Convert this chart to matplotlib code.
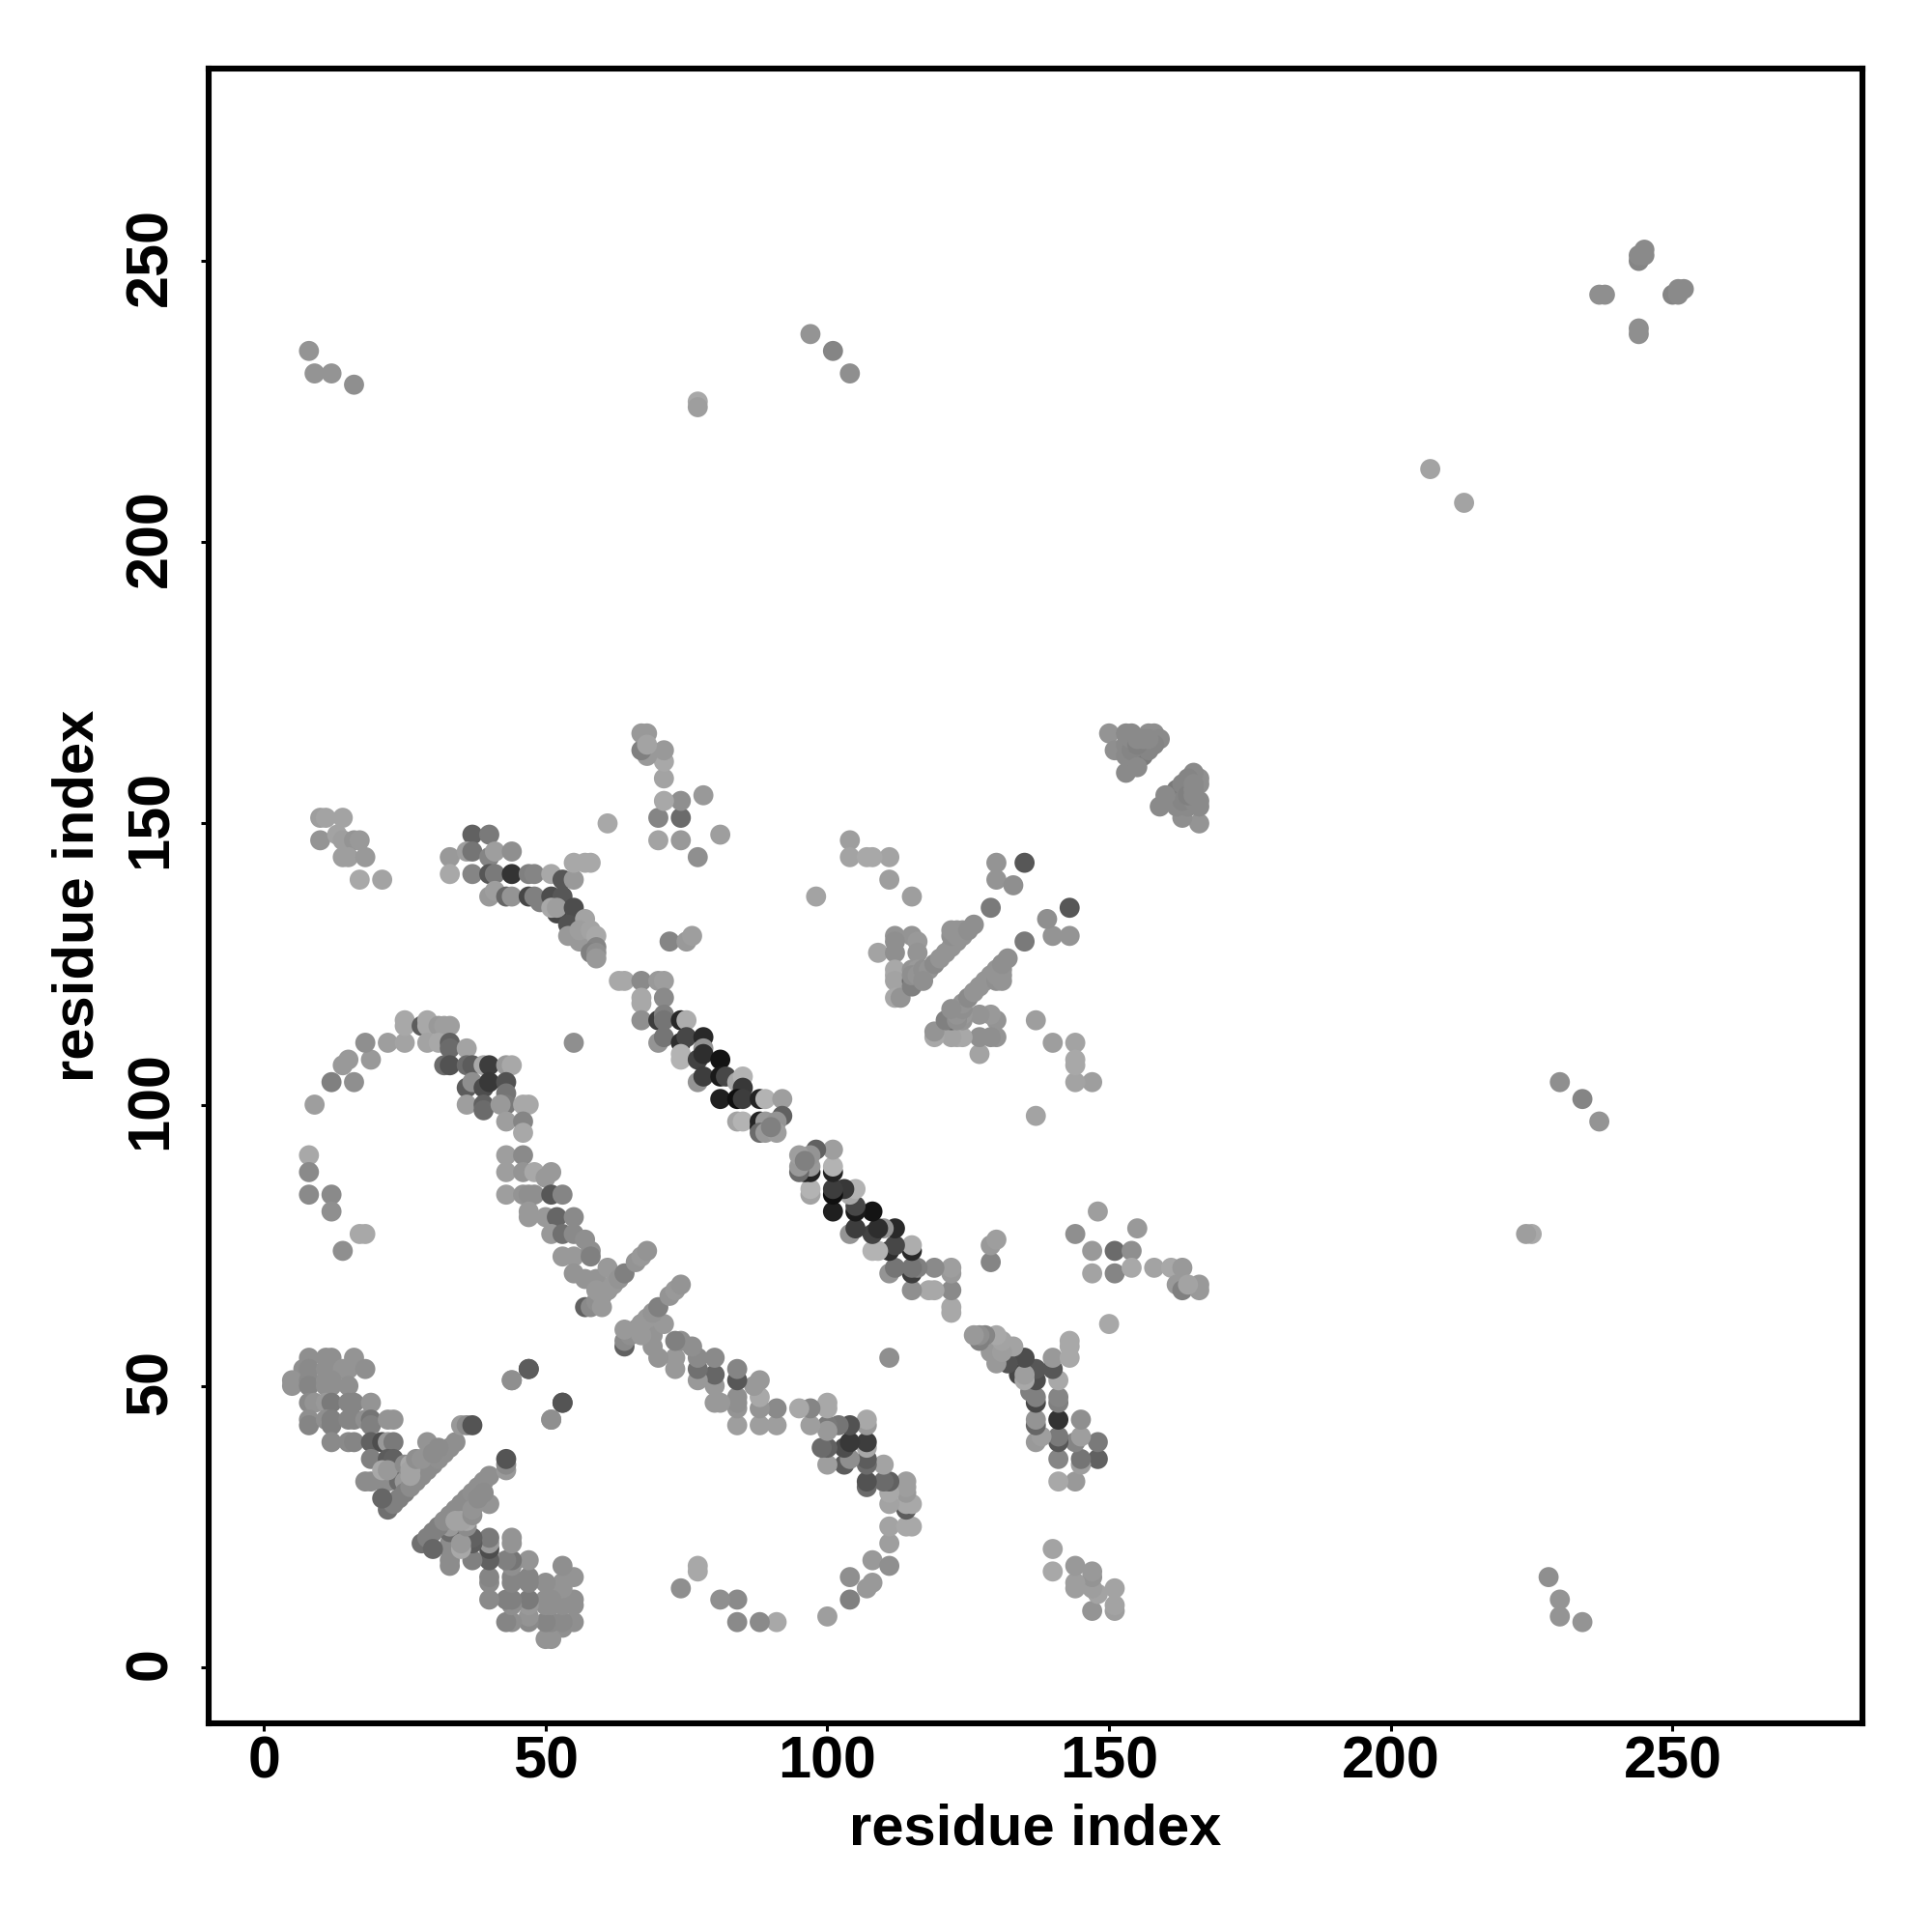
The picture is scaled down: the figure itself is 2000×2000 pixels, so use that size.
import numpy as np
import matplotlib
matplotlib.use('Agg')
import matplotlib.pyplot as plt
from matplotlib.transforms import ScaledTranslation

# contact map is symmetric, only i < j is listed and the mirror is drawn too
# gray level of each contact is stored next to it

# far apart contacts
far_i = [8, 9, 12, 16, 97, 101, 104, 77, 77, 207, 237, 238, 244, 244, 245, 245]
far_j = [234, 230, 230, 228, 237, 234, 230, 225, 224, 213, 244, 244, 250, 251, 251, 252]
far_g = [.58, .58, .58, .56, .58, .52, .56, .66, .62, .64, .56, .56, .52, .54, .54, .54]

# lower left blob next to the first strand pair
blob_i = [8, 11, 12, 16, 7, 8, 11, 12, 14, 15, 18, 5, 5, 8, 8, 11, 12, 11, 12, 15,
          8, 9, 11, 12, 15, 16, 19, 8, 8, 11, 12, 12, 15, 16, 18, 19, 19, 22, 23,
          12, 15, 16, 20, 19, 21, 22, 23, 19, 22, 23, 18, 19, 21, 22, 24, 25,
          29, 47, 44, 53, 51]
blob_j = [55, 55, 55, 55, 53, 53, 53, 53, 53, 53, 53, 51, 50, 51, 50, 51, 51, 50, 50, 50,
          47, 47, 47, 47, 47, 47, 47, 44, 43, 44, 44, 43, 44, 44, 44, 44, 43, 44, 44,
          40, 40, 40, 40, 40, 40, 40, 40, 37, 37, 37, 33, 33, 33, 33, 33, 33,
          40, 53, 51, 47, 44]
blob_g = [.56, .56, .56, .58, .56, .54, .56, .56, .58, .58, .56, .58, .58, .54, .52, .56, .56, .56, .56, .56,
          .54, .58, .6, .48, .52, .52, .58, .56, .52, .56, .5, .5, .52, .52, .56, .46, .5, .58, .58,
          .54, .54, .52, .55, .38, .3, .6, .48, .5, .36, .38, .55, .55, .55, .55, .42, .6,
          .58, .33, .56, .36, .56]

# first strand pair along the diagonal
s1_i = [22, 23, 24, 25, 26, 27, 28, 29, 30, 31, 32, 33, 34, 21, 21, 22, 25, 26, 26, 26, 27, 28, 30, 31, 35, 36, 37]
s1_j = [28, 29, 30, 31, 32, 33, 34, 35, 36, 37, 38, 39, 40, 30, 35, 35, 36, 36, 35, 34, 37, 37, 38, 39, 43, 43, 43]
s1_g = [.44, .5, .5, .5, .55, .55, .55, .55, .55, .56, .56, .56, .56, .4, .66, .6, .55, .66, .64, .64, .56, .58, .55, .55, .6, .54, .33]

# arc that bends round towards the long strand
arc_i = [8, 8, 8, 12, 12, 14, 17, 18, 9, 12, 16, 14, 15, 19, 18, 22, 25, 25, 25, 28, 29, 29, 29, 31, 32, 33,
         31, 33, 33, 36, 32, 33, 36, 37, 39, 40, 43, 44, 36, 37, 39, 40, 43, 43, 36, 39, 39, 43, 42, 46, 47, 43, 46, 46]
arc_j = [91, 88, 84, 84, 81, 74, 77, 77, 100, 104, 104, 107, 108, 108, 111, 111, 111, 115, 114, 114, 115, 114, 111, 114, 114, 114,
         111, 111, 110, 110, 107, 107, 107, 107, 107, 107, 107, 107, 103, 104, 103, 104, 104, 102, 100, 100, 99, 100, 100, 100, 100, 97, 97, 95]
arc_g = [.66, .54, .54, .54, .56, .56, .66, .66, .62, .5, .56, .6, .6, .6, .56, .62, .64, .66, .66, .36, .66, .66, .64, .6, .62, .62,
         .66, .38, .42, .64, .42, .32, .42, .36, .66, .24, .6, .66, .36, .56, .3, .22, .32, .46, .62, .38, .42, .48, .6, .66, .66, .62, .52, .66]

# second long strand, runs into the short near diagonal pair
s2_i = [43, 46, 43, 46, 48, 50, 51, 43, 46, 47, 48, 51, 53, 47, 47, 50, 52, 55, 51, 53, 55, 57, 53, 55, 58, 58, 55, 57, 59, 61, 61,
        57, 58, 59, 60, 61, 62, 63, 64, 66, 67, 68, 60, 59]
s2_j = [91, 91, 88, 88, 88, 87, 88, 84, 84, 84, 84, 84, 84, 81, 80, 80, 80, 80, 77, 77, 77, 76, 73, 73, 74, 73, 70, 69, 69, 71, 67,
        64, 64, 65, 66, 67, 68, 69, 70, 72, 73, 74, 64, 67]
s2_g = [.62, .54, .62, .58, .66, .6, .6, .62, .58, .56, .56, .34, .52, .6, .6, .6, .4, .54, .6, .44, .54, .56, .6, .6, .56, .5, .58, .58, .58, .6, .56,
        .38, .54, .56, .58, .6, .6, .58, .5, .58, .6, .58, .6, .6]

# third strand, near 37-59 with 127-148
s3_i = [37, 40, 33, 36, 37, 40, 41, 44, 33, 37, 40, 41, 44, 47, 48, 51, 53, 55, 55, 57, 58,
        40, 41, 43, 44, 47, 48, 49, 51, 53, 52, 51, 52, 55, 54, 57, 54, 56, 56, 58, 59, 59, 58, 59, 59]
s3_j = [148, 148, 144, 145, 145, 144, 145, 145, 141, 141, 141, 141, 141, 141, 141, 141, 140, 140, 143, 143, 143,
        137, 138, 137, 137, 137, 137, 136, 137, 137, 134, 135, 135, 135, 132, 133, 130, 129, 131, 131, 130, 128, 127, 127, 126]
s3_g = [.38, .48, .6, .62, .46, .52, .62, .56, .66, .52, .34, .48, .2, .5, .52, .66, .34, .6, .66, .66, .66,
        .6, .62, .4, .58, .28, .5, .5, .3, .34, .28, .66, .62, .3, .32, .64, .6, .6, .62, .64, .66, .52, .5, .56, .6]

# main long strand, the darkest contacts
main_i = [63, 64, 67, 70, 71, 67, 67, 71, 67, 70, 71, 71, 74, 75, 70, 71, 74, 75, 78, 78,
          74, 74, 77, 78, 81, 77, 78, 81, 82, 84, 85, 85, 81, 84, 85, 88, 89, 92, 84, 85, 88, 88, 89, 92, 91, 88, 89, 91, 90]
main_j = [122, 122, 122, 122, 122, 119, 118, 119, 115, 115, 116, 115, 115, 115, 111, 112, 111, 112, 112, 110,
          108, 109, 108, 109, 108, 104, 105, 105, 105, 104, 105, 103, 101, 101, 101, 101, 101, 101, 97, 97, 97, 96, 97, 98, 97, 95, 95, 95, 96]
main_g = [.66, .66, .54, .6, .62, .66, .66, .54, .56, .24, .5, .46, .16, .68, .58, .46, .18, .28, .16, .58,
          .7, .7, .26, .18, .08, .58, .24, .1, .28, .66, .7, .22, .12, .06, .24, .14, .7, .62, .64, .7, .14, .14, .6, .38, .58, .42, .6, .62, .5]

# contacts between the hairpin and the c-terminal half
mid_i = [81, 77, 78, 74, 74, 74, 70, 70, 71, 71, 71, 71, 68, 67, 68, 67, 68, 61, 72, 75, 76, 55, 115, 111, 111, 104, 104, 107, 108, 98]
mid_j = [148, 144, 155, 147, 151, 154, 147, 151, 154, 158, 161, 163, 162, 163, 166, 166, 164, 150, 129, 129, 130, 111, 137, 140, 144, 147, 144, 144, 144, 137]
mid_g = [.62, .56, .6, .6, .42, .56, .64, .52, .66, .64, .66, .6, .6, .5, .6, .6, .64, .66, .52, .6, .62, .56, .62, .62, .64, .62, .64, .66, .66, .64]

# short arcs near 8-21 with 139-151
arm_i = [10, 11, 14, 10, 13, 14, 16, 17, 14, 15, 18, 17, 21]
arm_j = [151, 151, 151, 147, 148, 147, 147, 147, 144, 144, 144, 140, 140]
arm_g = [.62, .64, .64, .58, .64, .62, .58, .6, .62, .62, .6, .66, .64]

# near diagonal pair around 112-135
s4_i = [112, 115, 112, 116, 109, 112, 116, 112, 112, 112, 115, 117, 116, 115, 116, 112, 113, 115, 115, 116, 117, 118, 117,
        119, 120, 121, 122, 123, 122, 123, 124, 122, 123, 124, 125, 126, 129, 130, 135, 130, 133]
s4_j = [130, 130, 129, 129, 127, 127, 127, 124, 123, 122, 124, 123, 124, 122, 122, 119, 119, 121, 123, 123, 124, 124, 122,
        125, 126, 127, 128, 129, 130, 130, 130, 131, 131, 131, 131, 132, 135, 143, 143, 140, 139]
s4_g = [.58, .58, .56, .6, .64, .56, .58, .66, .66, .64, .58, .56, .6, .42, .44, .66, .58, .5, .56, .58, .56, .58, .56,
        .54, .58, .58, .58, .58, .56, .58, .58, .58, .58, .58, .56, .56, .48, .58, .34, .58, .56]

# near diagonal pair around 150-166
s5_i = [150, 151, 153, 154, 157, 158, 159, 153, 154, 155, 156, 157, 158, 153, 153, 154, 154, 155, 155, 156, 155, 157]
s5_j = [166, 163, 166, 166, 166, 166, 165, 159, 160, 161, 162, 163, 164, 162, 164, 163, 165, 164, 160, 165, 165, 165]
s5_g = [.58, .56, .54, .54, .56, .56, .54, .54, .54, .52, .48, .52, .52, .54, .54, .52, .54, .5, .54, .54, .54, .54]

regions = [
    (far_i, far_j, far_g), (arm_i, arm_j, arm_g), (blob_i, blob_j, blob_g), (s1_i, s1_j, s1_g),
    (arc_i, arc_j, arc_g), (s2_i, s2_j, s2_g), (s3_i, s3_j, s3_g), (main_i, main_j, main_g),
    (mid_i, mid_j, mid_g), (s4_i, s4_j, s4_g), (s5_i, s5_j, s5_g),
]

res_ticks = [0, 50, 100, 150, 200, 250]

plt.rcParams['font.family'] = ['Liberation Sans', 'DejaVu Sans']

fig = plt.figure(figsize=(10, 10), dpi=200)
ax = fig.add_axes([216 / 2000, 1 - 1784 / 2000, (1928 - 216) / 2000, (1784 - 71) / 2000])

for res_i, res_j, shade in regions:
    colors = [str(g) for g in shade]
    ax.scatter(res_i, res_j, c=colors, s=56, linewidths=0, zorder=2)
    ax.scatter(res_j, res_i, c=colors, s=56, linewidths=0, zorder=2)

ax.set_xlim(-9.8, 283.7)
ax.set_ylim(-10.0, 284.2)
ax.set_xticks(res_ticks)
ax.set_yticks(res_ticks)
ax.tick_params(length=3, width=1.1, labelsize=22)
ax.tick_params(axis='x', pad=1.5)
ax.tick_params(axis='y', pad=8)
for label in ax.get_xticklabels() + ax.get_yticklabels():
    label.set_fontweight('bold')
# y labels sit a little high in the original
lift = ScaledTranslation(0, 4 / 200, fig.dpi_scale_trans)
for label in ax.get_yticklabels():
    label.set_rotation(90)
    label.set_va('center')
    label.set_transform(label.get_transform() + lift)
for spine in ax.spines.values():
    spine.set_linewidth(2.2)

fig.text(1072 / 2000, 1 - 1894 / 2000, 'residue index', fontsize=21.5, fontweight='bold', ha='center', va='center')
fig.text(81 / 2000, 1 - 927 / 2000, 'residue index', fontsize=21.5, fontweight='bold', ha='center', va='center', rotation=90)

fig.savefig('out.png', dpi=200)
